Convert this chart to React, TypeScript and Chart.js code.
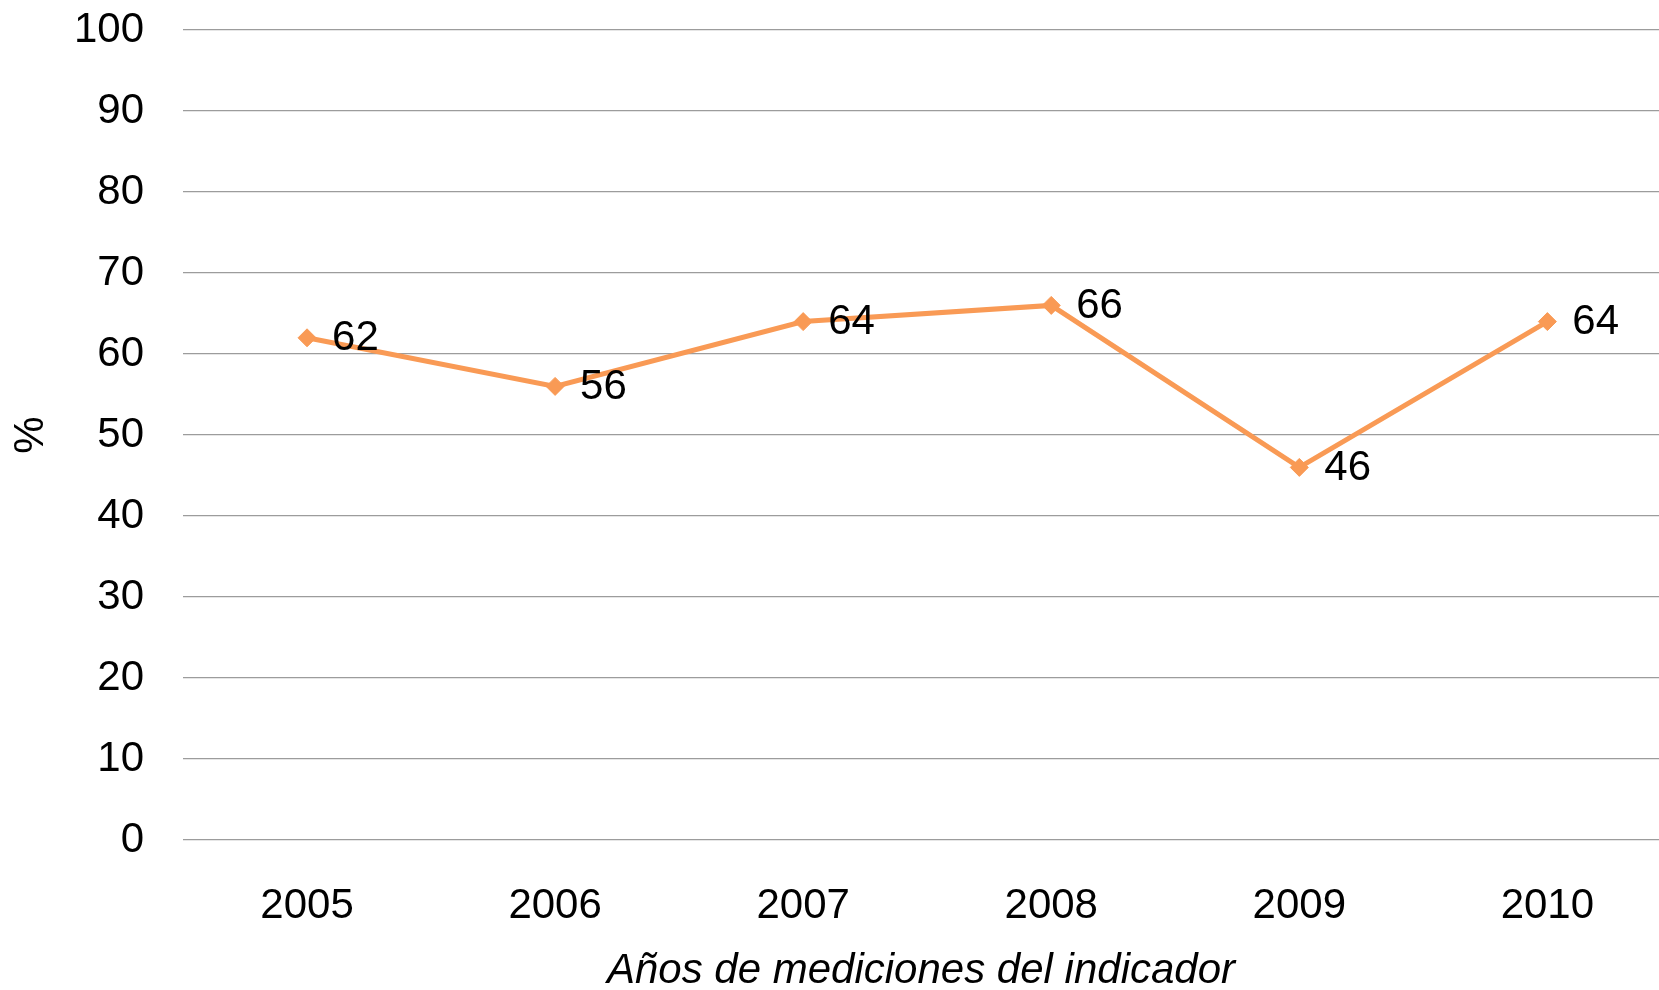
import React, { useEffect, useRef } from "react";
import { Chart, registerables } from "chart.js";

Chart.register(...registerables);

const years: string[] = ["2005", "2006", "2007", "2008", "2009", "2010"];
const values: number[] = [62, 56, 64, 66, 46, 64];
const yTicks: number[] = [0, 10, 20, 30, 40, 50, 60, 70, 80, 90, 100];
const yTitle = "%";
const xTitle = "Años de mediciones del indicador";

const FONT = "'Liberation Sans', Arial, Helvetica, sans-serif";
const ORANGE = "#F99A55";

const labelPlugin = {
  id: "pointLabels",
  afterDatasetsDraw(chart: any) {
    const ctx = chart.ctx;
    const meta = chart.getDatasetMeta(0);
    ctx.save();
    ctx.font = `42px ${FONT}`;
    ctx.fillStyle = "#000";
    ctx.textAlign = "left";
    ctx.textBaseline = "middle";
    meta.data.forEach((pt: any, i: number) => {
      ctx.fillText(String(values[i]), pt.x + 25, pt.y + 1);
    });
    ctx.restore();
  },
};

export default function App() {
  const ref = useRef<HTMLCanvasElement | null>(null);
  useEffect(() => {
    if (!ref.current) return;
    const chart = new Chart(ref.current, {
      type: "line",
      data: {
        datasets: [
          {
            data: values.map((v, i) => ({ x: i, y: v })),
            borderColor: ORANGE,
            backgroundColor: ORANGE,
            borderWidth: 5,
            pointStyle: "rectRot",
            pointRadius: 9,
            pointBorderWidth: 1,
            pointBackgroundColor: ORANGE,
            pointBorderColor: ORANGE,
            tension: 0,
            fill: false,
          },
        ],
      },
      options: {
        responsive: false,
        animation: false,
        layout: { autoPadding: false, padding: { top: 30, left: 0, right: 0, bottom: 0 } },
        plugins: {
          legend: { display: false },
          tooltip: { enabled: false },
        },
        scales: {
          x: {
            type: "linear",
            min: -0.5,
            max: 5.45,
            grid: { display: false, drawTicks: false },
            border: { display: false },
            afterBuildTicks: (scale: any) => {
              scale.ticks = years.map((_, i) => ({ value: i }));
            },
            afterFit: (scale: any) => {
              scale.height = 150;
              scale.paddingLeft = 0;
              scale.paddingRight = 0;
            },
            ticks: {
              padding: 41,
              color: "#000",
              font: { family: FONT, size: 42 },
              maxRotation: 0,
              autoSkip: false,
              callback: (v: any) => years[v] ?? "",
            },
            title: {
              display: true,
              text: xTitle,
              color: "#000",
              font: { family: FONT, size: 42, style: "italic", lineHeight: 0.9 },
              padding: { top: 17, bottom: 0 },
            },
          },
          y: {
            min: 0,
            max: 100,
            afterBuildTicks: (scale: any) => {
              scale.ticks = yTicks.map((v) => ({ value: v }));
            },
            afterFit: (scale: any) => {
              scale.width = 183;
              scale.paddingTop = 0;
              scale.paddingBottom = 0;
            },
            grid: {
              color: "#9c9c9c",
              lineWidth: 1.3,
              drawTicks: false,
            },
            border: { display: false },
            ticks: {
              padding: 39,
              color: "#000",
              font: { family: FONT, size: 42 },
            },
            title: {
              display: true,
              text: yTitle,
              color: "#000",
              font: { family: FONT, size: 42, lineHeight: 1 },
              padding: { top: 10, bottom: 0 },
            },
          },
        },
      },
      plugins: [labelPlugin],
    } as any);
    return () => chart.destroy();
  }, []);
  return (
    <div style={{ position: "absolute", left: 0, top: 0, width: 1659, height: 990, background: "#fff" }}>
      <canvas ref={ref} width={1659} height={990} style={{ display: "block" }} />
    </div>
  );
}
